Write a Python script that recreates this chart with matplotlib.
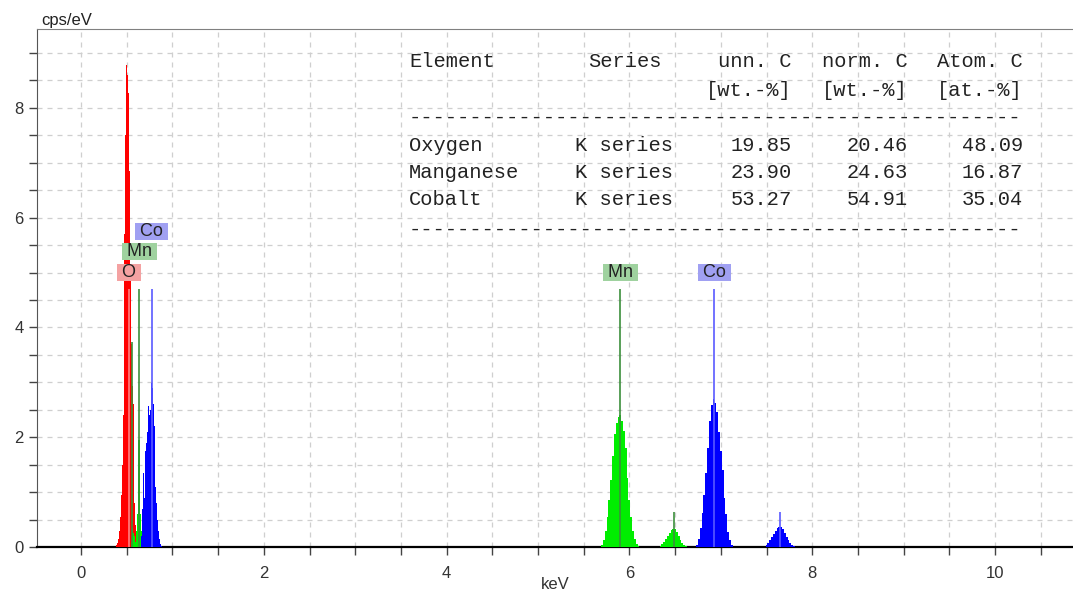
import numpy as np
import matplotlib
matplotlib.use('Agg')
import matplotlib.pyplot as plt
from matplotlib.ticker import MultipleLocator

# EDS spectrum, counts per channel (cps/eV)
o_k_start, o_k_step = 0.39, 0.01
o_k_counts = [0.03, 0.08, 0.15, 0.3, 0.55, 0.95, 1.5, 2.4, 3.67, 5.7, 7.5, 8.78,
              8.6, 8.27, 6.84, 4.9, 3.7, 2.93, 2.6, 1.4, 0.8, 0.4, 0.2, 0.08]

mn_l_start, mn_l_step = 0.55, 0.01
mn_l_counts = [0.1, 0.35, 0.25, 0.45, 0.2, 0.1, 0.3, 0.6, 1.95, 1.95, 0.6, 0.3, 0.12, 0.05]

co_l_start, co_l_step = 0.66, 0.01
co_l_counts = [0.2, 0.7, 1.35, 0.9, 1.6, 1.75, 1.9, 2.1, 2.56, 2.4, 2.5, 2.98,
               2.9, 2.6, 2.2, 1.5, 1.1, 0.8, 0.5, 0.3, 0.15, 0.06, 0.02]

mn_ka_start, mn_ka_step = 5.70, 0.02
mn_ka_counts = [0.03, 0.13, 0.3, 0.55, 0.85, 1.22, 1.65, 2.05, 2.25, 2.36, 2.4,
                2.3, 2.12, 1.8, 1.25, 0.85, 0.55, 0.3, 0.15, 0.05, 0.01]

mn_kb_start, mn_kb_step = 6.34, 0.02
mn_kb_counts = [0.02, 0.05, 0.09, 0.14, 0.2, 0.26, 0.31, 0.33, 0.32, 0.27, 0.2,
                0.13, 0.08, 0.04, 0.02]

co_ka_start, co_ka_step = 6.74, 0.02
co_ka_counts = [0.03, 0.15, 0.35, 0.62, 0.95, 1.35, 1.8, 2.3, 2.58, 2.7, 2.62,
                2.45, 2.1, 1.75, 1.4, 0.9, 0.6, 0.28, 0.12, 0.04]

co_kb_start, co_kb_step = 7.50, 0.02
co_kb_counts = [0.03, 0.07, 0.12, 0.18, 0.24, 0.3, 0.35, 0.37, 0.36, 0.32, 0.26,
                0.19, 0.13, 0.08, 0.04, 0.02]

# element line markers
line_elements = ['O', 'Mn', 'Mn', 'Co', 'Mn', 'Mn', 'Co', 'Co']
line_energies = [0.525, 0.556, 0.637, 0.776, 5.899, 6.490, 6.930, 7.649]
line_heights = [4.7, 3.73, 4.7, 4.7, 4.7, 0.64, 4.7, 0.64]

# labels over the lines
label_elements = ['O', 'Mn', 'Co', 'Mn', 'Co']
label_energies = [0.525, 0.637, 0.776, 5.899, 6.930]
label_stack = [0, 1, 2, 0, 0]

# quantification table
table_elements = ['Oxygen', 'Manganese', 'Cobalt']
table_series = ['K series', 'K series', 'K series']
unn_c = [19.85, 23.90, 53.27]
norm_c = [20.46, 24.63, 54.91]
atom_c = [48.09, 16.87, 35.04]

fill_colors = {'O': '#ff0000', 'Mn': '#00ee00', 'Co': '#0000ff'}
line_colors = {'O': '#ff8080', 'Mn': '#3c8f3c', 'Co': '#5a5aff'}
box_colors = {'O': '#f4a2a2', 'Mn': '#9fd29f', 'Co': '#a0a0f2'}

W, H = 1073, 592
fig = plt.figure(figsize=(W / 100, H / 100), dpi=100)
ax = fig.add_axes([37 / W, 45 / H, 1 - 37 / W, (547 - 29) / H])

px_x = 91.4
px_y = 54.9
ax.set_xlim(-44 / px_x, -44 / px_x + (W - 37) / px_x)
ax.set_ylim(0, 518 / px_y)


def draw_peak(start, step, counts, color):
    counts = np.asarray(counts)
    edges = start - step / 2 + step * np.arange(len(counts) + 1)
    ax.stairs(counts, edges, fill=True, color=color, linewidth=0, zorder=3)


draw_peak(o_k_start, o_k_step, o_k_counts, fill_colors['O'])
draw_peak(mn_l_start, mn_l_step, mn_l_counts, fill_colors['Mn'])
draw_peak(co_l_start, co_l_step, co_l_counts, fill_colors['Co'])
draw_peak(mn_ka_start, mn_ka_step, mn_ka_counts, fill_colors['Mn'])
draw_peak(mn_kb_start, mn_kb_step, mn_kb_counts, fill_colors['Mn'])
draw_peak(co_ka_start, co_ka_step, co_ka_counts, fill_colors['Co'])
draw_peak(co_kb_start, co_kb_step, co_kb_counts, fill_colors['Co'])

for el, e, h in zip(line_elements, line_energies, line_heights):
    ax.vlines(e, 0, h, color=line_colors[el], linewidth=1.2, zorder=4)

for el, e, s in zip(label_elements, label_energies, label_stack):
    ax.annotate(' %s ' % el, xy=(e, 4.7), xytext=(0, 5.8 + s * 14.8),
                textcoords='offset points', ha='center', va='bottom',
                fontsize=13, family='Liberation Sans', color='#222222', zorder=6,
                bbox=dict(boxstyle='square,pad=0', fc=box_colors[el], ec='none'))

# axes styling
ax.xaxis.set_major_locator(MultipleLocator(2))
ax.xaxis.set_minor_locator(MultipleLocator(0.5))
ax.yaxis.set_major_locator(MultipleLocator(2))
ax.yaxis.set_minor_locator(MultipleLocator(0.5))
ax.grid(True, which='both', color='#cfcfcf', linestyle=(0, (4, 4)), linewidth=0.9, zorder=0)
ax.set_axisbelow(True)
ax.spines['right'].set_visible(False)
ax.spines['top'].set_color('#808080')
ax.spines['left'].set_color('#555555')
ax.spines['bottom'].set_color('#000000')
ax.spines['bottom'].set_linewidth(1.6)
ax.tick_params(axis='both', which='both', direction='out', length=6, width=1,
               color='#444444', labelsize=12, labelcolor='#333333')
ax.tick_params(axis='x', pad=8)
for lab in ax.get_xticklabels() + ax.get_yticklabels():
    lab.set_family('Liberation Sans')
# in the original the unit label sits at the very bottom edge; keep it just inside
ax.set_xlabel('keV', fontsize=12, family='Liberation Sans', color='#333333', labelpad=-3)
fig.text(41 / W, 1 - 25 / H, 'cps/eV', fontsize=12, family='Liberation Sans',
         color='#222222', va='baseline')

# table text
mono = dict(fontsize=14.7, family='Liberation Mono', color='#222222', va='baseline')


def ty(y):
    return 1 - y / H


fig.text(409 / W, ty(67), 'Element', ha='left', **mono)
fig.text(588 / W, ty(67), 'Series', ha='left', **mono)
fig.text(792 / W, ty(67), 'unn. C', ha='right', **mono)
fig.text(908 / W, ty(67), 'norm. C', ha='right', **mono)
fig.text(1023 / W, ty(67), 'Atom. C', ha='right', **mono)
fig.text(792 / W, ty(96), '[wt.-%]', ha='right', **mono)
fig.text(908 / W, ty(96), '[wt.-%]', ha='right', **mono)
fig.text(1023 / W, ty(96), '[at.-%]', ha='right', **mono)
fig.text(409 / W, ty(123), '-' * 50, ha='left', **mono)
for i in range(len(table_elements)):
    y = ty(151 + 27 * i)
    fig.text(409 / W, y, table_elements[i], ha='left', **mono)
    fig.text(575 / W, y, table_series[i], ha='left', **mono)
    fig.text(792 / W, y, '%.2f' % unn_c[i], ha='right', **mono)
    fig.text(908 / W, y, '%.2f' % norm_c[i], ha='right', **mono)
    fig.text(1023 / W, y, '%.2f' % atom_c[i], ha='right', **mono)
fig.text(409 / W, ty(235), '-' * 50, ha='left', **mono)

fig.savefig('out.png', dpi=100)
